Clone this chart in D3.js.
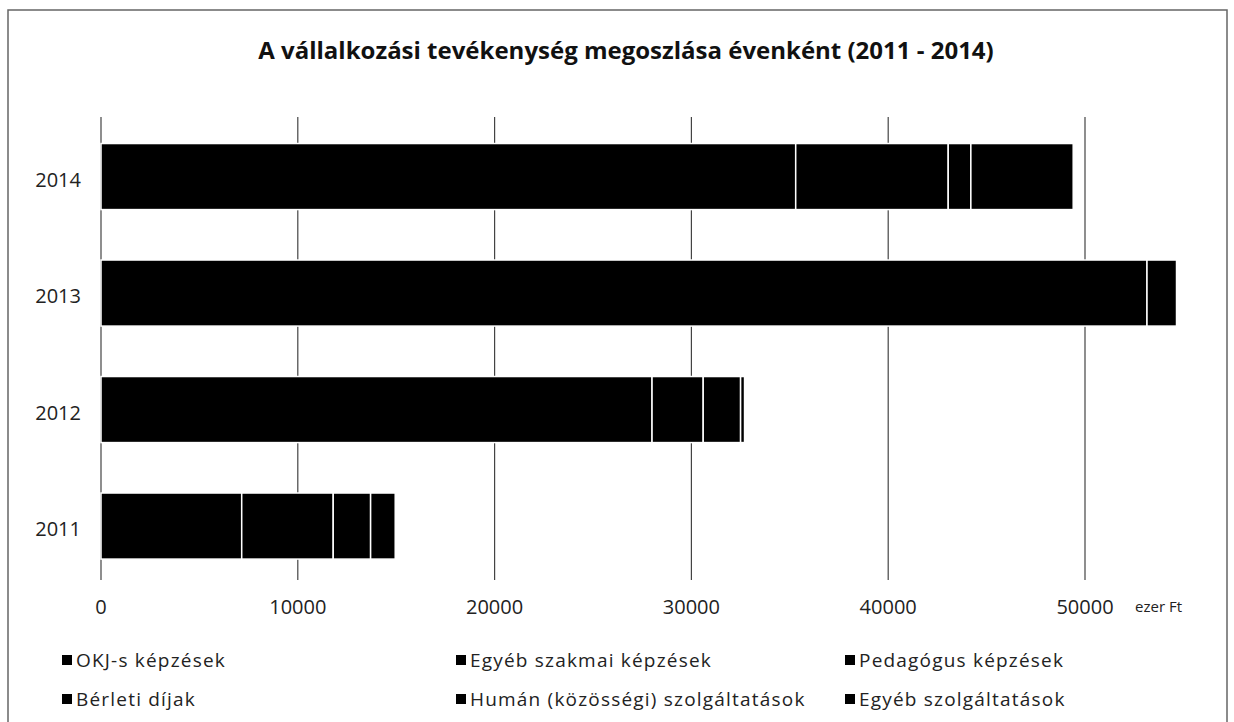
<!DOCTYPE html>
<html>
<head>
<meta charset="utf-8">
<title>Vállalkozási tevékenység</title>
<script src="https://d3js.org/d3.v7.min.js"></script>
<style>
  body { margin: 0; background: white; font-family: "Open Sans", "Noto Sans", sans-serif; }
  .grid line { stroke: #444; stroke-width: 1.2; }
</style>
</head>
<body>
<script>
// values in ezer Ft
var years = ["2014", "2013", "2012", "2011"];
var series = ["OKJ-s képzések", "Egyéb szakmai képzések", "Pedagógus képzések",
              "Bérleti díjak", "Humán (közösségi) szolgáltatások", "Egyéb szolgáltatások"];
var okj      = [35300, 53150, 28000, 7150];
var szakmai  = [7750,  0,     2600,  4650];
var pedagog  = [1150,  0,     0,     1900];
var berleti  = [5200,  1500,  1900,  1250];
var human    = [0,     0,     200,   0];
var egyeb    = [0,     0,     0,     0];
var xTicks = [0, 10000, 20000, 30000, 40000, 50000];

var cols = [okj, szakmai, pedagog, berleti, human, egyeb];
var rows = years.map(function(y, i) {
  var r = { year: y };
  series.forEach(function(s, j) { r[s] = cols[j][i]; });
  return r;
});

var width = 1234, height = 722;
var svg = d3.select("body").append("svg")
  .attr("width", width).attr("height", height);

// scanned frame
svg.append("path")
  .attr("d", "M8,730 L8,10 L1227,10 L1227,730")
  .attr("fill", "none").attr("stroke", "#666").attr("stroke-width", 1.5);

svg.append("text")
  .attr("x", 626).attr("y", 59)
  .attr("text-anchor", "middle")
  .attr("font-size", 24).attr("font-weight", "bold")
  .attr("fill", "#111")
  .text("A vállalkozási tevékenység megoszlása évenként (2011 - 2014)");

var x = d3.scaleLinear().domain([0, 50000]).range([101, 1085]);
var y = d3.scaleBand().domain(years).range([114.4, 588.2])
  .paddingInner(0.433).paddingOuter(0.25);

// gridlines
svg.append("g").attr("class", "grid")
  .selectAll("line").data(xTicks).enter().append("line")
  .attr("x1", function(d) { return x(d); })
  .attr("x2", function(d) { return x(d); })
  .attr("y1", 117).attr("y2", 580);

var stacked = d3.stack().keys(series)(rows);

svg.append("g").selectAll("g")
  .data(stacked).enter().append("g")
  .selectAll("rect")
  .data(function(d) { return d; }).enter().append("rect")
  .attr("x", function(d) { return x(d[0]); })
  .attr("width", function(d) { return x(d[1]) - x(d[0]); })
  .attr("y", function(d) { return y(d.data.year); })
  .attr("height", y.bandwidth())
  .attr("fill", "#000")
  .attr("stroke", function(d) { return d[1] > d[0] ? "#fff" : "none"; })
  .attr("stroke-width", 1.5);

// year labels
svg.append("g").selectAll("text")
  .data(years).enter().append("text")
  .attr("x", 81)
  .attr("y", function(d) { return y(d) + y.bandwidth() / 2 + 10; })
  .attr("text-anchor", "end")
  .attr("font-size", 20)
  .attr("fill", "#222")
  .text(function(d) { return d; });

// x tick labels
svg.append("g").selectAll("text")
  .data(xTicks).enter().append("text")
  .attr("x", function(d) { return x(d); })
  .attr("y", 614)
  .attr("text-anchor", "middle")
  .attr("font-size", 20)
  .attr("fill", "#222")
  .text(function(d) { return d; });

svg.append("text")
  .attr("x", 1135).attr("y", 612)
  .attr("font-size", 15).attr("fill", "#222")
  .text("ezer Ft");

// legend, 3 columns x 2 rows
var legX = [62, 456, 845], legY = [667, 706];
var leg = svg.append("g").selectAll("g")
  .data(series).enter().append("g")
  .attr("transform", function(d, i) {
    return "translate(" + legX[i % 3] + "," + legY[Math.floor(i / 3)] + ")";
  });
leg.append("rect")
  .attr("x", 0).attr("y", -12).attr("width", 10).attr("height", 10)
  .attr("fill", "#000");
leg.append("text")
  .attr("x", 14).attr("y", 0)
  .attr("font-size", 19).attr("letter-spacing", 1.2)
  .attr("fill", "#222")
  .text(function(d) { return d; });
</script>
</body>
</html>
